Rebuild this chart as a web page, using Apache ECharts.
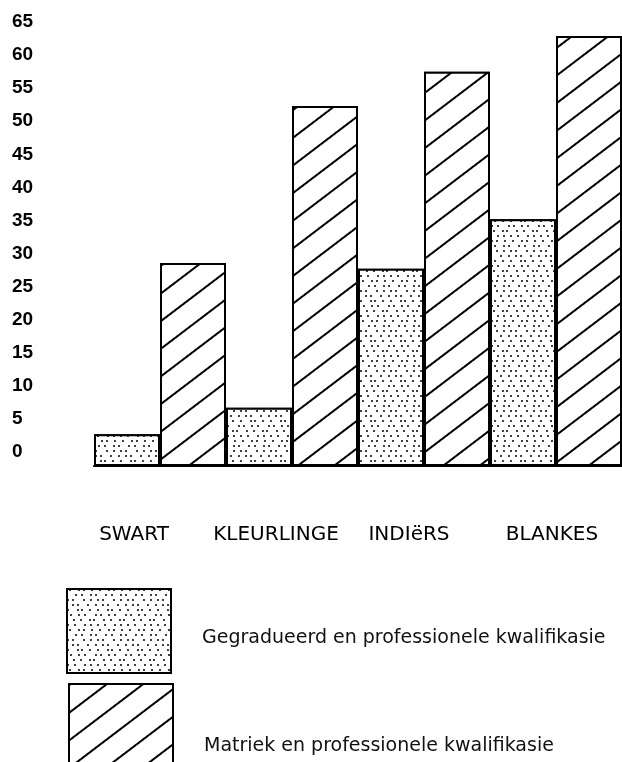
<!DOCTYPE html>
<html><head><meta charset="utf-8">
<script src="https://cdn.jsdelivr.net/npm/echarts@6/dist/echarts.min.js"></script>
<style>html,body{margin:0;padding:0;background:#fff}#c{width:622px;height:762px}</style>
</head><body><div id="c"></div>
<script>
// ---- data ----
const categories = ['SWART', 'KLEURLINGE', 'INDIëRS', 'BLANKES'];
const graduateValues = [4.8, 8.8, 29.8, 37.3];
const matricValues = [30.7, 54.4, 59.6, 65];
const seriesNames = ['Gegradueerd en professionele kwalifikasie', 'Matriek en professionele kwalifikasie'];
const yMin = 0, yMax = 65, yStep = 5;

// ---- layout / style ----
const labelShift = [26, 16, 15, 4];
const dotDecal = {
  symbol: 'circle', symbolSize: 1, color: '#000', backgroundColor: '#fff',
  dashArrayX: [
    [2, 5, 2, 8, 2, 4, 2, 5],
    [0, 2, 2, 7, 2, 3, 2, 6, 2, 4],
    [0, 8, 2, 4, 2, 7, 2, 3, 2, 0],
    [2, 3, 2, 9, 2, 5, 2, 5],
    [0, 5, 2, 3, 2, 8, 2, 6, 2, 0],
    [2, 8, 2, 2, 2, 6, 2, 6],
    [0, 3, 2, 6, 2, 4, 2, 9, 2, 0],
    [0, 6, 2, 5, 2, 7, 2, 2, 2, 2]
  ],
  dashArrayY: [2, 3]
};
const hatchDecal = {
  symbol: 'rect', symbolSize: 1, color: '#000', backgroundColor: '#fff',
  dashArrayX: [1, 0], dashArrayY: [1.8, 20], rotation: -0.65
};
const barStyle = (decal) => ({ color: '#fff', borderColor: '#000', borderWidth: 2, decal: decal });
const legendFont = { fontFamily: 'DejaVu Sans', fontSize: 19, color: '#111' };

const chart = echarts.init(document.getElementById('c'), null, { renderer: 'canvas' });
chart.setOption({
  animation: false,
  backgroundColor: '#fff',
  grid: { left: 94, right: 0, top: 36, bottom: 296, containLabel: false, outerBoundsMode: 'none' },
  xAxis: {
    type: 'category',
    data: categories.map((c, i) => ({ value: c, textStyle: { padding: [0, labelShift[i] * 2, 0, 0] } })),
    axisLine: { show: true, lineStyle: { color: '#000', width: 2 } },
    axisTick: { show: false },
    axisLabel: { margin: 59, fontFamily: 'DejaVu Sans', fontSize: 20, color: '#000', interval: 0 }
  },
  yAxis: {
    type: 'value', min: yMin, max: yMax, interval: yStep,
    splitLine: { show: false }, axisLine: { show: false }, axisTick: { show: false },
    axisLabel: {
      align: 'left', margin: 82, fontFamily: 'Liberation Sans', fontSize: 19, fontWeight: 'bold', color: '#000',
      formatter: '{v|{value}}',
      rich: { v: { fontFamily: 'Liberation Sans', fontSize: 19, fontWeight: 'bold', color: '#000', padding: [0, 0, 28, 0] } }
    }
  },
  legend: [
    { data: [seriesNames[0]], left: 66, top: 588, padding: 0, orient: 'vertical', itemWidth: 104, itemHeight: 84, icon: 'rect', selectedMode: false,
      itemStyle: { borderWidth: 2, borderColor: '#000' },
      formatter: '{t|{name}}',
      textStyle: Object.assign({}, legendFont, { rich: { t: Object.assign({}, legendFont, { padding: [14, 0, 0, 26] }) } }) },
    { data: [seriesNames[1]], left: 68, top: 683, padding: 0, orient: 'vertical', itemWidth: 104, itemHeight: 84, icon: 'rect', selectedMode: false,
      itemStyle: { borderWidth: 2, borderColor: '#000' },
      formatter: '{t|{name}}',
      textStyle: Object.assign({}, legendFont, { rich: { t: Object.assign({}, legendFont, { padding: [40, 0, 0, 26] }) } }) }
  ],
  series: [
    { name: seriesNames[0], type: 'bar', data: graduateValues, barWidth: 66, barGap: '0%', barCategoryGap: '0%', itemStyle: barStyle(dotDecal) },
    { name: seriesNames[1], type: 'bar', data: matricValues, barWidth: 66, barGap: '0%', barCategoryGap: '0%', itemStyle: barStyle(hatchDecal) }
  ]
});
</script></body></html>
